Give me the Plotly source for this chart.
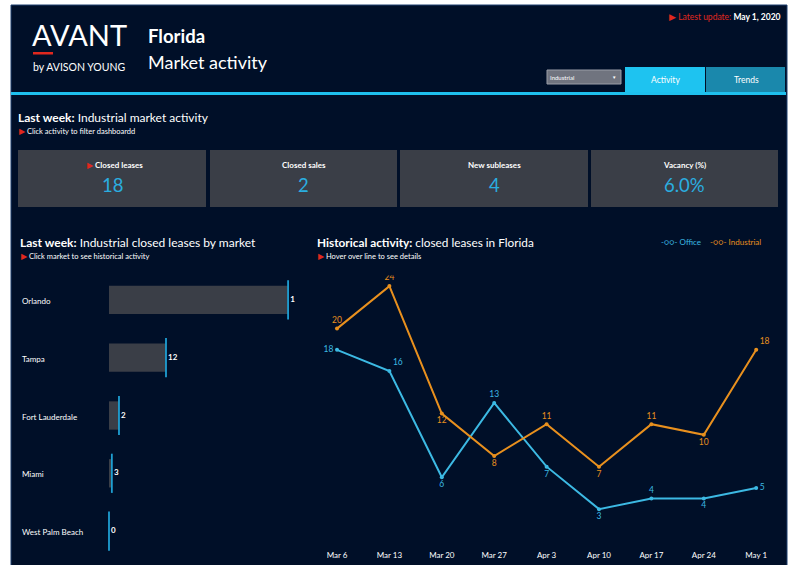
import plotly.graph_objects as go

W, H = 789, 565

# ---------------- data ----------------
kpi_labels = ["Closed leases", "Closed sales", "New subleases", "Vacancy (%)"]
kpi_values = ["18", "2", "4", "6.0%"]

markets = ["Orlando", "Tampa", "Fort Lauderdale", "Miami", "West Palm Beach"]
market_bars = [37.7, 12.0, 2.1, 0.6, 0.0]
market_labels = ["1", "12", "2", "3", "0"]

weeks = ["Mar 6", "Mar 13", "Mar 20", "Mar 27", "Apr 3", "Apr 10", "Apr 17", "Apr 24", "May 1"]
office = [18, 16, 6, 13, 7, 3, 4, 4, 5]
industrial = [20, 24, 12, 8, 11, 7, 11, 10, 18]
office_pos = ["middle left", "top right", "bottom center", "top center", "bottom center",
              "bottom center", "top center", "bottom center", "middle right"]
industrial_pos = ["top center", "top center", "bottom center", "bottom center", "top center",
                  "bottom center", "top center", "bottom center", "top right"]

# ---------------- style ----------------
FONT = "Lato, Open Sans, sans-serif"
BG = "#000f28"
CARD = "#3a3e47"
BLUE = "#2aaee0"
LBLUE = "#3cb9e3"
ORANGE = "#e8901e"
RED = "#e0281e"
WHITE = "#ffffff"


def px(x):
    return x / W


def py(y):
    return 1 - y / H


fig = go.Figure()

# bar chart
fig.add_trace(go.Bar(
    x=market_bars, y=markets, orientation="h", marker=dict(color=CARD, line=dict(width=0)),
    width=0.49, xaxis="x", yaxis="y", hoverinfo="x+y"))
fig.add_trace(go.Scatter(
    x=market_bars, y=markets, mode="markers", cliponaxis=False,
    marker=dict(symbol="line-ns", size=28, line=dict(width=1.8, color="#1e9fd2"), color="#1e9fd2"),
    xaxis="x", yaxis="y", hoverinfo="skip"))
fig.add_trace(go.Scatter(
    x=market_bars, y=markets, mode="text", text=["\u00a0<b>%s</b>" % t for t in market_labels],
    textposition="middle right", cliponaxis=False,
    textfont=dict(family=FONT, size=8, color=WHITE), xaxis="x", yaxis="y", hoverinfo="skip"))

# line chart
fig.add_trace(go.Scatter(
    x=weeks, y=office, mode="lines+markers+text", text=[str(v) for v in office],
    textposition=office_pos, textfont=dict(family=FONT, size=8.5, color=LBLUE),
    line=dict(color=LBLUE, width=2), marker=dict(size=4, color=LBLUE), name="Office",
    xaxis="x2", yaxis="y2"))
fig.add_trace(go.Scatter(
    x=weeks, y=industrial, mode="lines+markers+text", text=[str(v) for v in industrial],
    textposition=industrial_pos, textfont=dict(family=FONT, size=8.5, color=ORANGE),
    line=dict(color=ORANGE, width=2), marker=dict(size=4, color=ORANGE), name="Industrial",
    xaxis="x2", yaxis="y2"))

shapes = []
# background
shapes.append(dict(type="rect", xref="paper", yref="paper", x0=px(11), x1=px(787), y0=py(566), y1=py(5),
                   fillcolor=BG, line=dict(color="#1c3f6e", width=1), layer="below"))
# red underline of logo
shapes.append(dict(type="rect", xref="paper", yref="paper", x0=px(33), x1=px(53), y0=py(54.5), y1=py(52),
                   fillcolor=RED, line=dict(width=0), layer="below"))
# tabs
shapes.append(dict(type="rect", xref="paper", yref="paper", x0=px(625), x1=px(705), y0=py(93), y1=py(67),
                   fillcolor="#1ec3f0", line=dict(width=0), layer="below"))
shapes.append(dict(type="rect", xref="paper", yref="paper", x0=px(706), x1=px(785), y0=py(92), y1=py(67),
                   fillcolor="#1a88ac", line=dict(width=0), layer="below"))
# header line
shapes.append(dict(type="rect", xref="paper", yref="paper", x0=px(11), x1=px(786), y0=py(95), y1=py(92),
                   fillcolor="#1ec0ee", line=dict(width=0), layer="below"))
# dropdown
shapes.append(dict(type="rect", xref="paper", yref="paper", x0=px(547), x1=px(621), y0=py(84), y1=py(70),
                   fillcolor="#70747f", line=dict(color="#9a9ea8", width=1), layer="below"))
# KPI cards
card_x = [(18, 206), (210, 397), (400, 588), (591, 778)]
for x0, x1 in card_x:
    shapes.append(dict(type="rect", xref="paper", yref="paper", x0=px(x0), x1=px(x1), y0=py(207), y1=py(150),
                       fillcolor=CARD, line=dict(width=0), layer="below"))

ann = []


def text(x, y, t, size, color=WHITE, xanchor="left", yanchor="middle", family=FONT, weight=None):
    f = dict(family=family, size=size, color=color)
    if weight:
        f["weight"] = weight
    ann.append(dict(xref="paper", yref="paper", x=px(x), y=py(y), text=t, showarrow=False,
                    xanchor=xanchor, yanchor=yanchor, font=f))


# header
text(30, 35, "AVANT", 29)
text(31, 67, "by AVISON YOUNG", 10.5)
text(146, 36, "<b>Florida</b>", 18.5)
text(146, 62, "Market activity", 18)
text(783, 17, "<span style='color:%s'>▶ Latest update:</span> <b>May 1, 2020</b>" % RED, 8.5, xanchor="right")
text(548, 77, "Industrial", 6)
text(618, 77, "▼", 4.5, xanchor="right")
text(665, 80, "Activity", 8.5, xanchor="center")
text(746, 80, "Trends", 8.5, xanchor="center")

# section 1
text(16, 118, "<b>Last week:</b> Industrial market activity", 12)
text(17, 131, "<span style='color:%s'>▶</span> Click activity to filter dashboardd" % RED, 7.5)
for i, (x0, x1) in enumerate(card_x):
    cx = (x0 + x1) / 2
    lab = "<b>%s</b>" % kpi_labels[i]
    if i == 0:
        lab = "<span style='color:%s'>▶</span> " % RED + lab
    text(cx + (3 if i == 0 else 0), 165, lab, 8, xanchor="center")
    text(cx, 185, kpi_values[i], 18.5, color=BLUE, xanchor="center")

# section 2
text(18, 242, "<b>Last week:</b> Industrial closed leases by market", 12)
text(19, 256, "<span style='color:%s'>▶</span> Click market to see historical activity" % RED, 7.5)
for m in markets:
    ann.append(dict(xref="paper", yref="y", x=px(20), y=m, text=m, showarrow=False, xanchor="left",
                    yshift=-1, font=dict(family=FONT, size=8, color=WHITE)))

# section 3
text(315, 242, "<b>Historical activity:</b> closed leases in Florida", 11.8)
text(316, 256, "<span style='color:%s'>▶</span> Hover over line to see details" % RED, 7.5)
text(659, 242, "-○○- Office", 8, color=LBLUE)
text(708, 242, "-○○- Industrial", 8, color=ORANGE)

fig.update_layout(
    width=W, height=H, margin=dict(l=0, r=0, t=0, b=0),
    paper_bgcolor="white", plot_bgcolor="rgba(0,0,0,0)", showlegend=False,
    font=dict(family=FONT, color=WHITE),
    shapes=shapes, annotations=ann, bargap=0.5,
    xaxis=dict(domain=[px(109), px(299)], range=[0, 40], visible=False, fixedrange=True),
    yaxis=dict(domain=[py(560), py(271)], range=[4.5, -0.5], type="category",
               categoryorder="array", categoryarray=markets, visible=False, fixedrange=True),
    xaxis2=dict(domain=[px(310.8), px(782.4)], range=[-0.5, 8.5], type="category",
                showgrid=False, zeroline=False, showline=False, ticks="outside", ticklen=6,
                tickcolor="rgba(0,0,0,0)", tickfont=dict(family=FONT, size=8, color=WHITE),
                anchor="y2"),
    yaxis2=dict(domain=[py(541), py(275.5)], range=[0, 25], visible=False, anchor="x2"),
)

fig.write_html("out.html", config={"displayModeBar": False},
               post_script="document.body.style.margin='0px';document.body.style.overflow='hidden';")
